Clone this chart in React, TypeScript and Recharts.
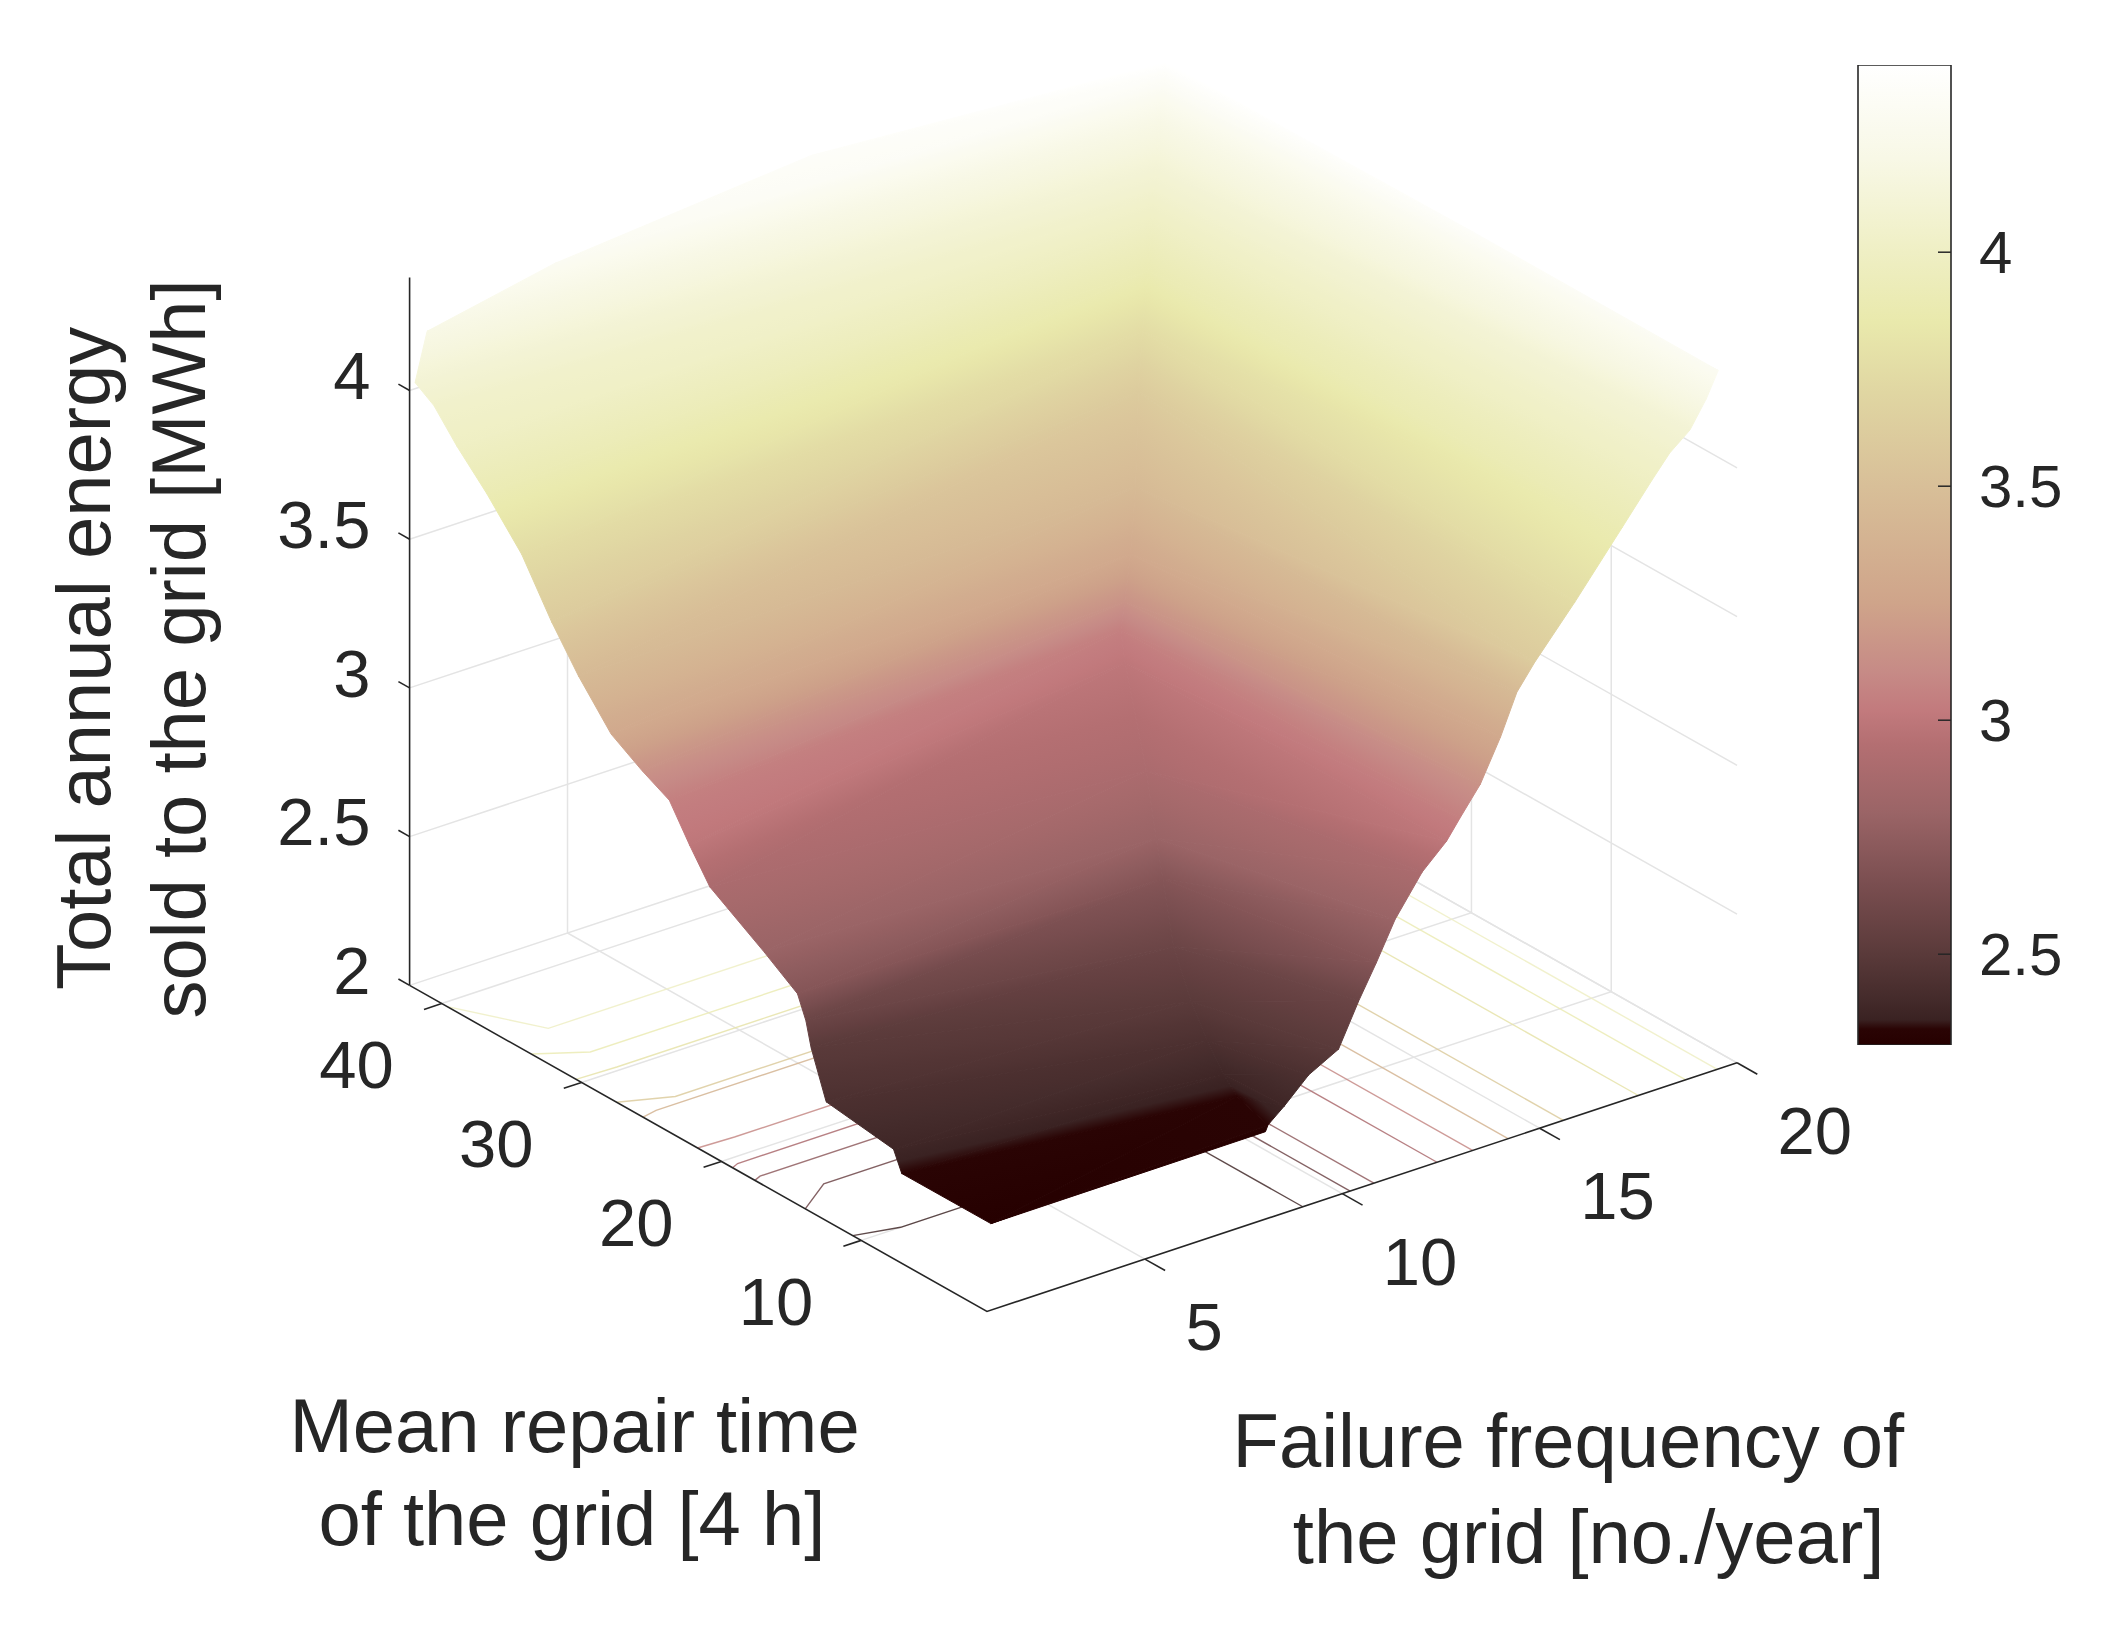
import React from "react";
import { BarChart, Bar, ScatterChart, Scatter, XAxis, YAxis } from "recharts";

const W = 2113;
const H = 1630;
const PX = 1.352;
const INK = "#262626";
const GRID = "#e4e4e4";
const FONT = "'Liberation Sans', Arial, sans-serif";

const zTicks = [2, 2.5, 3, 3.5, 4];
const fTicks = [5, 10, 15, 20];
const rTicks = [10, 20, 30, 40];
const barTicks = [2.5, 3, 3.5, 4];
const fRange = [1, 20];
const rRange = [1, 42.3];
const zTop = 4.38;
const wallTop = 4.2;
const barRange = [2.306, 4.4];

// surface as contour levels: energy value, then failure frequency and repair time
// of the level's left end, its crease point and its right end
const levels = [2.31, 2.34, 2.38, 2.44, 2.5, 2.58, 2.7, 2.8, 2.9, 3, 3.05, 3.15, 3.3, 3.45, 3.6, 3.75, 3.9, 4, 4.05, 4.1, 4.2, 4.3, 4.35, 4.4];
const leftF = [0.94, 0.68, 0.9, 0.66, 1.44, 1.45, 1.07, 0.88, 1.01, 1.03, 1.55, 1.11, 0.39, 0.25, 0.09, 0.26, 0.16, 0.18, 0.54, 0.47, 1.27, 4.37, 11.11, 18.98];
const leftR = [0.55, 6.19, 7.4, 11.54, 14.82, 15.22, 14.75, 16.61, 20.85, 22.36, 25.27, 25.98, 26.16, 28.1, 29.57, 32.19, 34.41, 36.6, 39.26, 40.41, 41.81, 41.47, 42.12, 39.01];
const creaseF = [0.94, 8.21, 8.27, 8.46, 8.81, 9.42, 10.15, 10.35, 11.26, 13.14, 13.57, 13.59, 13.76, 14.49, 15.95, 16.47, 17.02, 17.58, 17.94, 18.33, 18.89, 18.94, 19, 18.98];
const creaseR = [0.55, 3.47, 4.6, 6.3, 8.44, 11.43, 14.26, 15.3, 18.58, 25.41, 26.92, 26.7, 26.77, 28.46, 32.39, 33.57, 34.72, 36.02, 36.96, 37.85, 39.15, 39.08, 39.15, 39.01];
const rightF = [7.92, 7.9, 8.36, 9.12, 9.82, 10.85, 11.19, 11.87, 12.8, 13.23, 13.67, 14.11, 14.51, 14.77, 14.63, 15.74, 17.33, 18.3, 18.93, 19.48, 19.78, 19.93, 19.51, 18.98];
const rightR = [0.62, 0.38, 0.51, 0.92, 0.76, 2.21, 1.92, 2.5, 3.19, 2.65, 2.94, 2.73, 2.41, 1.98, 0.32, 0.55, 1.67, 2.28, 2.79, 2.9, 2.58, 2.15, 18.44, 39.01];

// contour lines on the floor
const contourLevels = [2.4, 2.6, 2.75, 2.9, 3.1, 3.4, 3.6, 3.8, 3.9, 4];
const contourRAxis = [10.6, 14, 17.6, 19.2, 21.7, 25.6, 27.5, 30.4, 33.6, 39.6];
const contourRKnee = [10, 15.5, 17.8, 19.4, 21.6, 25.8, 26.4, 30.3, 32.2, 35.2];
const contourFKnee = [2, 2, 1.2, 1.2, 1.9, 1.4, 2.1, 2, 2, 2];
const contourF = [9, 10.2, 10.8, 12.4, 13.3, 14.2, 15.6, 17.5, 18.7, 19.5];

const cmapZ = [2.306, 2.34, 2.36, 2.4, 2.5, 2.65, 2.8, 2.95, 3.02, 3.1, 3.25, 3.5, 3.7, 3.85, 4, 4.2, 4.4];
const cmapC = ["#260000", "#2a0404", "#3a2222", "#432a2a", "#5a3a3a", "#7a4e50", "#9a6466", "#b46f72", "#c27a7d", "#c68a86", "#cfa48a", "#d8bf98", "#e0d6a2", "#e9e9ac", "#efefc4", "#f8f8e6", "#ffffff"];

type P = { x: number; y: number };

// fixed camera, the chart axes below run 1:1 in the same units
const project = (f: number, r: number, z: number): P => ({
  x: PX * (730 + 29.2 * (f - 1) - 10.34 * (r - 1)),
  y: PX * (970 - 9.68 * (f - 1) - 5.84 * (r - 1) - 220 * (z - 2)),
});

const hex = (c: string) => [1, 3, 5].map((i) => parseInt(c.slice(i, i + 2), 16));
function colorOf(z: number) {
  let i = 0;
  while (i < cmapZ.length - 2 && z > cmapZ[i + 1]) i++;
  const t = Math.min(1, Math.max(0, (z - cmapZ[i]) / (cmapZ[i + 1] - cmapZ[i])));
  const a = hex(cmapC[i]);
  const b = hex(cmapC[i + 1]);
  return `rgb(${a.map((v, k) => Math.round(v + (b[k] - v) * t)).join(",")})`;
}

type Tri = { x: number; y: number; pts: P[]; g: number[]; z0: number; z1: number; id: string };
const triangles: Tri[] = [];
function addTri(p: P, q: P, t: P, z0: number, z1: number) {
  const dx = q.x - p.x;
  const dy = q.y - p.y;
  const len = dx * dx + dy * dy;
  if (len < 1) return;
  const u = ((t.x - p.x) * dx + (t.y - p.y) * dy) / len;
  const g = [p.x + u * dx, p.y + u * dy, t.x, t.y];
  triangles.push({ x: p.x, y: p.y, pts: [p, q, t], g, z0, z1, id: `tri${triangles.length}` });
}
const arms = [
  [leftF, leftR, creaseF, creaseR],
  [creaseF, creaseR, rightF, rightR],
];
levels.slice(0, -1).forEach((z, i) => {
  const z2 = levels[i + 1];
  arms.forEach(([fa, ra, fb, rb]) => {
    const p0 = project(fa[i], ra[i], z);
    const q0 = project(fb[i], rb[i], z);
    const p1 = project(fa[i + 1], ra[i + 1], z2);
    const q1 = project(fb[i + 1], rb[i + 1], z2);
    addTri(p0, q0, q1, z, z2);
    addTri(p1, q1, p0, z2, z);
  });
});

const TriShape = (props: any) => {
  const { cx, cy, payload: t } = props;
  const dx = cx - t.x;
  const dy = cy - t.y;
  return (
    <g>
      <defs>
        <linearGradient id={t.id} gradientUnits="userSpaceOnUse" x1={t.g[0] + dx} y1={t.g[1] + dy} x2={t.g[2] + dx} y2={t.g[3] + dy}>
          {[0, 0.25, 0.5, 0.75, 1].map((k) => (
            <stop key={k} offset={k} stopColor={colorOf(t.z0 + (t.z1 - t.z0) * k)} />
          ))}
        </linearGradient>
      </defs>
      <polygon
        points={t.pts.map((p: P) => `${p.x + dx},${p.y + dy}`).join(" ")}
        fill={`url(#${t.id})`}
        stroke={`url(#${t.id})`}
        strokeWidth={1}
      />
    </g>
  );
};

const NoDot = () => <g />;

const path = (pts: number[][]) => pts.map(([f, r, z]) => project(f, r, z));

const gridLines: P[][] = [
  ...fTicks.map((f) => path([[f, rRange[0], 2], [f, rRange[1], 2], [f, rRange[1], wallTop]])),
  ...rTicks.map((r) => path([[fRange[0], r, 2], [fRange[1], r, 2], [fRange[1], r, wallTop]])),
  ...zTicks.map((z) => path([[fRange[0], rRange[1], z], [fRange[1], rRange[1], z], [fRange[1], rRange[0], z]])),
];

const axisLines: P[][] = [
  path([[fRange[0], rRange[1], 2], [fRange[0], rRange[0], 2], [fRange[1], rRange[0], 2]]),
  path([[fRange[0], rRange[1], 2], [fRange[0], rRange[1], zTop]]),
  ...fTicks.map((f) => path([[f, rRange[0], 2], [f, rRange[0] - 1.45, 2]])),
  ...rTicks.map((r) => path([[fRange[0], r, 2], [fRange[0] - 0.45, r, 2]])),
  ...zTicks.map((z) => path([[fRange[0], rRange[1], z], [fRange[0], rRange[1] + 0.8, z]])),
];

const contours = contourLevels.map((z, i) => ({
  z,
  pts: path([
    [fRange[0], contourRAxis[i], 2],
    [contourFKnee[i], contourRKnee[i], 2],
    [contourF[i], contourRKnee[i], 2],
    [contourF[i], rRange[0], 2],
  ]),
}));

const tickShape = (dx: number, dy: number, anchor: string) => (props: any) => (
  <text
    x={props.cx + dx * PX}
    y={props.cy + dy * PX}
    textAnchor={anchor}
    dominantBaseline="central"
    fontSize={67}
    fontFamily={FONT}
    fill={INK}
  >
    {props.payload.v}
  </text>
);

const fLabels = fTicks.map((v) => ({ ...project(v, rRange[0], 2), v }));
const rLabels = rTicks.map((v) => ({ ...project(fRange[0], v, 2), v }));
const zLabels = zTicks.map((v) => ({ ...project(fRange[0], rRange[1], v), v }));

const Title = ({ x, y, rotate, children }: any) => (
  <text
    x={x * PX}
    y={y * PX}
    textAnchor="middle"
    fontSize={76}
    fontFamily={FONT}
    fill={INK}
    transform={rotate ? `rotate(-90 ${x * PX} ${y * PX})` : undefined}
  >
    {children}
  </text>
);

const barData = [{ name: "scale", range: barRange }];
const barStops = cmapZ.map((z, i) => ({
  offset: (z - barRange[0]) / (barRange[1] - barRange[0]),
  color: cmapC[i],
}));

const BarTick = (props: any) => {
  const { x, y, payload } = props;
  return (
    <g>
      <line x1={x - 13} x2={x} y1={y} y2={y} stroke={INK} strokeWidth={1.5} />
      <text x={x + 28} y={y} dominantBaseline="central" fontSize={60} fontFamily={FONT} fill={INK}>
        {payload.value}
      </text>
    </g>
  );
};

export default function App() {
  return (
    <div style={{ position: "absolute", left: 0, top: 0, width: W, height: H, background: "#fff" }}>
      <ScatterChart width={W} height={H} margin={{ top: 0, right: 0, bottom: 0, left: 0 }}>
        <XAxis type="number" dataKey="x" domain={[0, W]} hide allowDataOverflow />
        <YAxis type="number" dataKey="y" domain={[0, H]} reversed hide allowDataOverflow />
        {gridLines.map((pts, i) => (
          <Scatter key={`grid${i}`} data={pts} line={{ stroke: GRID, strokeWidth: 1.5 }} lineType="joint" shape={NoDot} isAnimationActive={false} />
        ))}
        {contours.map((c, i) => (
          <Scatter key={`contour${i}`} data={c.pts} line={{ stroke: colorOf(c.z), strokeWidth: 1.4, strokeOpacity: 0.85 }} lineType="joint" shape={NoDot} isAnimationActive={false} />
        ))}
        <Scatter data={triangles} shape={TriShape} isAnimationActive={false} />
        {axisLines.map((pts, i) => (
          <Scatter key={`axis${i}`} data={pts} line={{ stroke: INK, strokeWidth: 1.6 }} lineType="joint" shape={NoDot} isAnimationActive={false} />
        ))}
        <Scatter data={fLabels} shape={tickShape(30, 50, "start")} isAnimationActive={false} />
        <Scatter data={rLabels} shape={tickShape(-63, 45, "middle")} isAnimationActive={false} />
        <Scatter data={zLabels} shape={tickShape(-29, -11, "end")} isAnimationActive={false} />
        <Title x={81} y={487} rotate>Total annual energy</Title>
        <Title x={152} y={480} rotate>sold to the grid [MWh]</Title>
        <Title x={425} y={1074}>Mean repair time</Title>
        <Title x={423} y={1143}>of the grid [4 h]</Title>
        <Title x={1160} y={1085}>Failure frequency of</Title>
        <Title x={1175} y={1156}>the grid [no./year]</Title>
      </ScatterChart>
      <div style={{ position: "absolute", left: 1848, top: 55 }}>
        <BarChart width={260} height={1000} data={barData} margin={{ top: 10, right: 0, bottom: 10, left: 10 }} barCategoryGap={0}>
          <defs>
            <linearGradient id="barFill" x1="0" y1="1" x2="0" y2="0">
              {barStops.map((s) => (
                <stop key={s.offset} offset={s.offset} stopColor={s.color} />
              ))}
            </linearGradient>
          </defs>
          <XAxis dataKey="name" hide />
          <YAxis
            orientation="right"
            width={157}
            type="number"
            domain={barRange}
            ticks={barTicks}
            axisLine={false}
            tickLine={false}
            tickSize={0}
            tickMargin={0}
            tick={BarTick}
            allowDataOverflow
          />
          <Bar dataKey="range" fill="url(#barFill)" stroke={INK} strokeWidth={1.6} isAnimationActive={false} />
        </BarChart>
      </div>
    </div>
  );
}
